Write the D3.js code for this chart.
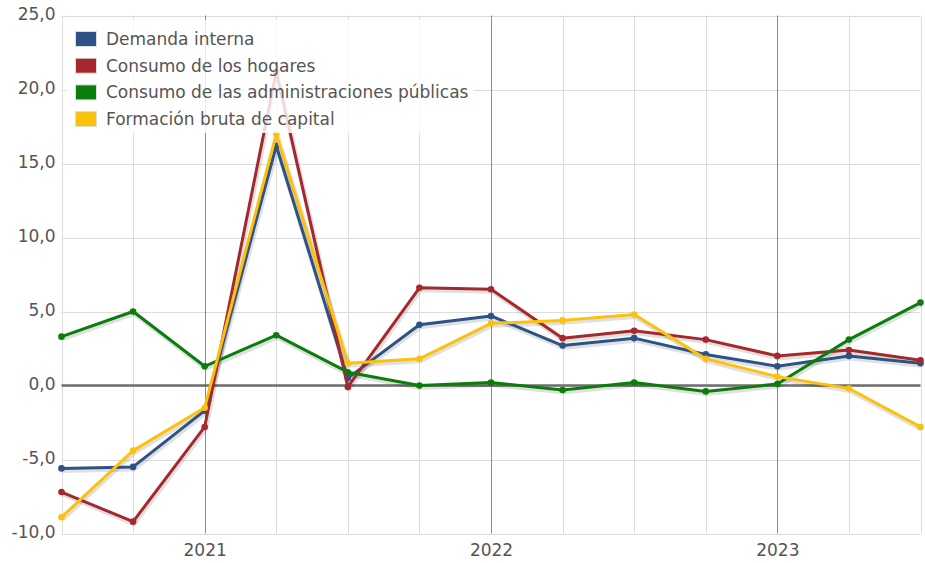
<!DOCTYPE html>
<html><head><meta charset="utf-8">
<script src="https://cdn.jsdelivr.net/npm/d3@7"></script>
<style>body{margin:0;background:#fff}svg{display:block}text{font-family:"DejaVu Sans",Verdana,sans-serif}</style>
</head><body><svg id="c" width="925" height="563"></svg>
<script>
const quarters = ["2020T3","2020T4","2021T1","2021T2","2021T3","2021T4","2022T1","2022T2","2022T3","2022T4","2023T1","2023T2","2023T3"];
const yearTicks = ["2021T1","2022T1","2023T1"];
const yearLabels = ["2021","2022","2023"];
const yTicks = [-10,-5,0,5,10,15,20,25];
const seriesNames = ["Demanda interna","Consumo de los hogares","Consumo de las administraciones públicas","Formación bruta de capital"];
const seriesColors = ["#2d5286","#a5282c","#0b7d0b","#fcc10d"];
const demandaInterna = [-5.6,-5.5,-1.7,16.2,0.5,4.1,4.7,2.7,3.2,2.1,1.3,2.0,1.5];
const consumoHogares = [-7.2,-9.2,-2.8,21.2,-0.1,6.6,6.5,3.2,3.7,3.1,2.0,2.4,1.7];
const consumoAAPP = [3.3,5.0,1.3,3.4,0.9,0.0,0.2,-0.3,0.2,-0.4,0.1,3.1,5.6];
const fbc = [-8.9,-4.4,-1.5,17.0,1.5,1.8,4.2,4.4,4.8,1.8,0.6,-0.2,-2.8];
const seriesValues = [demandaInterna, consumoHogares, consumoAAPP, fbc];

const svg = d3.select("#c");
const L = 61.5, R = 920.5, T = 15.5, B = 533.5;
const x = d3.scalePoint().domain(quarters).range([L, R]);
const y = d3.scaleLinear().domain([-10, 25]).range([B, T]);
const FONT = '"DejaVu Sans",Verdana,sans-serif';

// horizontal grid
svg.append("g").selectAll("line").data(yTicks).join("line")
  .attr("x1", L).attr("x2", R).attr("y1", d => Math.round(y(d))+0.5).attr("y2", d => Math.round(y(d))+0.5)
  .attr("stroke", "#dcdcdc").attr("stroke-width", 1);
// vertical grid
svg.append("g").selectAll("line").data(quarters).join("line")
  .attr("x1", d => Math.round(x(d))+0.5).attr("x2", d => Math.round(x(d))+0.5).attr("y1", T).attr("y2", B)
  .attr("stroke", d => yearTicks.includes(d) ? "#8c8c8c" : "#dcdcdc").attr("stroke-width", 1);
// zero line
svg.append("line").attr("x1", L).attr("x2", R).attr("y1", y(0)).attr("y2", y(0))
  .attr("stroke", "#6e6e6e").attr("stroke-width", 2.5);

// y axis labels
const yAxis = d3.axisLeft(y).tickValues(yTicks).tickSize(0).tickPadding(6)
  .tickFormat(d => d3.format(".1f")(d).replace(".", ",").replace("−","-"));
const gy = svg.append("g").attr("transform", `translate(${L},-1)`).call(yAxis);
gy.select(".domain").remove();
gy.selectAll("text").attr("font-size", 17).attr("fill", "#555").attr("font-family", FONT);

// x axis labels
const xAxis = d3.axisBottom(x).tickValues(yearTicks).tickSize(0).tickPadding(10)
  .tickFormat((d,i) => yearLabels[i]);
const gx = svg.append("g").attr("transform", `translate(0,${B})`).call(xAxis);
gx.select(".domain").remove();
gx.selectAll("text").attr("font-size", 17).attr("fill", "#555").attr("font-family", FONT);

const line = d3.line().x((d,i) => x(quarters[i])).y(d => y(d));
// shadows
seriesValues.forEach((vals) => {
  svg.append("path").datum(vals).attr("d", line).attr("fill", "none")
    .attr("stroke", "#000").attr("stroke-opacity", 0.12).attr("stroke-width", 5)
    .attr("stroke-linejoin", "round").attr("transform", "translate(1,2)");
});
seriesValues.forEach((vals, k) => {
  svg.append("path").datum(vals).attr("d", line).attr("fill", "none")
    .attr("stroke", seriesColors[k]).attr("stroke-width", 3).attr("stroke-linejoin", "round");
  svg.append("g").selectAll("circle").data(vals).join("circle")
    .attr("cx", (d,i) => x(quarters[i])).attr("cy", d => y(d)).attr("r", 3.3)
    .attr("fill", seriesColors[k]);
});

// legend
const lg = svg.append("g");
lg.append("rect").attr("x", 66).attr("y", 20).attr("width", 408).attr("height", 113)
  .attr("fill", "#fff").attr("fill-opacity", 0.82);
seriesNames.forEach((n, i) => {
  const cy = 39 + i * 26.7;
  lg.append("rect").attr("x", 75.5).attr("y", cy - 7.5).attr("width", 21).attr("height", 15)
    .attr("fill", seriesColors[i]).attr("stroke", "#ddd").attr("stroke-width", 1);
  lg.append("text").attr("x", 106).attr("y", cy).attr("dy", "0.35em")
    .attr("font-size", 17).attr("fill", "#555").text(n);
});
</script></body></html>
